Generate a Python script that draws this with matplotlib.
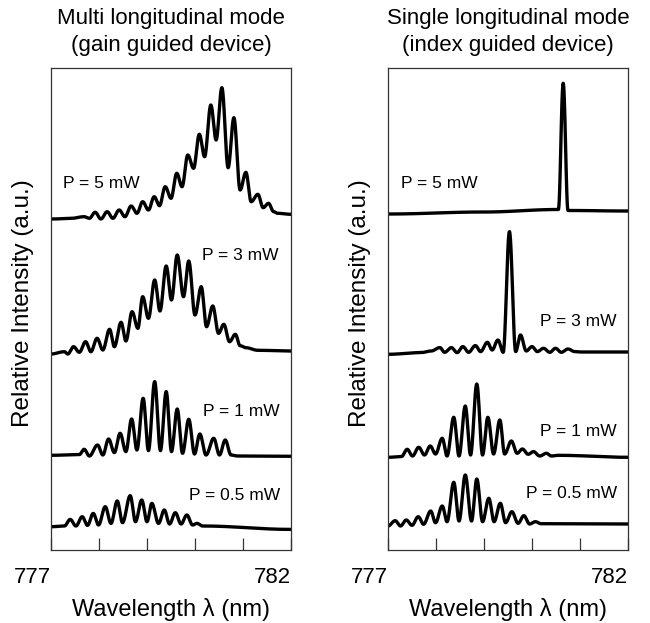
import numpy as np
import matplotlib
matplotlib.use('Agg')
from matplotlib import pyplot as plt

plt.rcParams['font.family'] = ['Liberation Sans', 'DejaVu Sans']

# extrema: wavelength (nm) and height above each baseline
gain_5_wl = [777.00, 777.40, 777.69, 777.80, 777.92, 778.04, 778.17, 778.29, 778.42, 778.54,
             778.67, 778.79, 778.91, 779.03, 779.15, 779.26, 779.38, 779.50, 779.62, 779.73,
             779.85, 779.97, 780.09, 780.20, 780.33, 780.44, 780.56, 780.69, 780.81, 780.94,
             781.06, 781.17, 781.31, 781.42, 781.53, 781.64, 781.72, 782.00]
gain_5_i = [0, 0.5, 2.3, 0.7, 6.7, 0, 7.3, 0.7, 9, 2.3,
            13, 5.7, 17.3, 9, 22.3, 13.3, 32.3, 20.7, 45.7, 32.3,
            64, 50.7, 84.7, 62.3, 114, 79, 131.3, 51.3, 101.3, 29,
            46.7, 17.3, 24.7, 11.3, 15.7, 7.3, 5.7, 4.7]

gain_3_wl = [777.00, 777.28, 777.35, 777.47, 777.59, 777.72, 777.83, 777.96, 778.08, 778.22,
             778.32, 778.46, 778.56, 778.69, 778.81, 778.91, 779.03, 779.16, 779.27, 779.40,
             779.51, 779.63, 779.76, 779.87, 780.00, 780.13, 780.24, 780.37, 780.49, 780.60,
             780.72, 780.84, 780.94, 781.06, 781.31, 782.00]
gain_3_i = [0, 2.3, 0, 7.3, 1.7, 12.3, 2.3, 15.7, 4, 24.7,
            7.3, 31.7, 13, 42.3, 25.7, 57.3, 35.7, 74, 43, 88,
            54, 99, 57.3, 93, 39, 67.3, 27.3, 48, 20.7, 29.7,
            12.3, 19.7, 8.3, 6.3, 3.7, 3]

gain_1_wl = [777.00, 777.59, 777.69, 777.80, 777.97, 778.08, 778.20, 778.32, 778.44, 778.56,
             778.68, 778.79, 778.92, 779.03, 779.16, 779.28, 779.40, 779.51, 779.63, 779.74,
             779.87, 779.99, 780.10, 780.23, 780.39, 780.51, 780.63, 780.75, 780.89, 782.00]
gain_1_i = [0, 0.7, 6, -0.7, 10.3, 0.3, 16.3, 2.7, 22, 3.7,
            36.3, 5.3, 57, 4.7, 73.7, 4.7, 63.7, 3.7, 46.3, 2,
            36, 1.3, 21.3, 0.3, 17, 0.3, 15.3, 0.3, -0.7, -1]

gain_05_wl = [777.00, 777.28, 777.40, 777.52, 777.65, 777.76, 777.88, 777.99, 778.13, 778.25,
              778.38, 778.49, 778.65, 778.76, 778.89, 779.00, 779.10, 779.24, 779.36, 779.47,
              779.59, 779.71, 779.83, 779.95, 780.04, 780.16, 782.00]
gain_05_i = [0, 0.7, 7.3, 0.7, 10, 1.3, 13.3, 1.7, 20, 3.3,
             25.7, 4, 31, 5, 26.7, 5, 23.3, 3.3, 16.7, 2.7,
             14, 2.7, 11.7, 1.7, 3.3, 0.7, -2.7]

index_5_wl = [777.00, 779.00, 780.55, 780.65, 780.75, 782.00]
index_5_i = [0, 2, 4.5, 130.7, 3.5, 3]

index_3_wl = [777.00, 777.69, 777.90, 778.08, 778.18, 778.32, 778.44, 778.56, 778.68, 778.82,
              778.93, 779.07, 779.17, 779.29, 779.40, 779.53, 779.66, 779.76, 779.88, 780.00,
              780.11, 780.24, 780.37, 780.49, 780.61, 780.75, 780.89, 781.03, 782.00]
index_3_i = [0, 1.7, 3.3, 6.7, 2, 6.7, 1.7, 7.7, 2, 8.7,
             2.7, 12, 4.3, 14.3, 2, 122.7, 2.7, 19.3, 3.3, 7.7,
             2.7, 6, 2, 6, 2, 5.3, 2.7, 2.3, 2.3]

index_1_wl = [777.00, 777.28, 777.40, 777.51, 777.64, 777.76, 777.88, 777.99, 778.13, 778.23,
              778.37, 778.48, 778.61, 778.72, 778.85, 778.97, 779.08, 779.20, 779.33, 779.43,
              779.57, 779.69, 779.80, 779.92, 780.03, 780.16, 780.30, 780.40, 780.54, 782.00]
index_1_i = [0, 0.7, 8, 1.3, 10, 2.3, 11.3, 3.3, 19, 1.3,
             40, 1.3, 51.3, 2.3, 73.3, 2.3, 40, 3.3, 37.3, 3.3,
             16.3, 4, 8.3, 3, 5.7, 1.3, 4, 1.3, 2, 0]

index_05_wl = [777.00, 777.15, 777.26, 777.38, 777.50, 777.63, 777.74, 777.89, 777.99, 778.13,
               778.23, 778.37, 778.48, 778.61, 778.74, 778.85, 778.97, 779.10, 779.21, 779.34,
               779.45, 779.58, 779.71, 779.83, 779.95, 780.07, 780.19, 782.00]
index_05_i = [0, 5.3, 0, 6, 0.7, 9.3, 1.7, 15, 3.3, 20,
              4.3, 43.7, 5, 51, 5, 47, 4.3, 27.7, 4.3, 22.7,
              3.3, 14.3, 2.7, 10.3, 2, 4.3, 2.3, 2]

powers = ['P = 5 mW', 'P = 3 mW', 'P = 1 mW', 'P = 0.5 mW']
gain_offsets = [331, 196, 94.7, 23.3]
index_offsets = [336, 195.7, 92.7, 24]

gain_label_pos = [(777.24, 366, 'left'), (781.74, 295, 'right'),
                  (781.77, 139, 'right'), (781.77, 55, 'right')]
index_label_pos = [(777.27, 366, 'left'), (781.77, 228, 'right'),
                   (781.77, 118, 'right'), (781.77, 56, 'right')]

gain = [(gain_5_wl, gain_5_i), (gain_3_wl, gain_3_i), (gain_1_wl, gain_1_i), (gain_05_wl, gain_05_i)]
index = [(index_5_wl, index_5_i), (index_3_wl, index_3_i), (index_1_wl, index_1_i), (index_05_wl, index_05_i)]


# smooth curve through extrema (half-cosine between consecutive points)
def smooth(wl, inten, n=24):
    xs, ys = [], []
    t = np.linspace(0, 1, n, endpoint=False)
    s = (1 - np.cos(np.pi * t)) / 2
    for k in range(len(wl) - 1):
        xs.append(wl[k] + (wl[k + 1] - wl[k]) * t)
        ys.append(inten[k] + (inten[k + 1] - inten[k]) * s)
    xs.append([wl[-1]])
    ys.append([inten[-1]])
    return np.concatenate(xs), np.concatenate(ys)


fig = plt.figure(figsize=(6.5, 6.23), dpi=100)
ax1 = fig.add_axes([51 / 650, 73 / 623, 240 / 650, 482 / 623])
ax2 = fig.add_axes([388 / 650, 73 / 623, 240 / 650, 482 / 623])

titles = ['Multi longitudinal mode\n(gain guided device)',
          'Single longitudinal mode\n(index guided device)']

for ax, traces, offsets, lpos, title in [(ax1, gain, gain_offsets, gain_label_pos, titles[0]),
                                          (ax2, index, index_offsets, index_label_pos, titles[1])]:
    for (wl, inten), off, p, (lx, ly, ha) in zip(traces, offsets, powers, lpos):
        x, y = smooth(wl, inten)
        ax.plot(x, y + off, color='black', lw=2.4, solid_joinstyle='round')
        ax.text(lx, ly, p, ha=ha, va='center', fontsize=12.5)
    ax.set_xlim(777, 782)
    ax.set_ylim(0, 482)
    ax.set_yticks([])
    ax.set_xticks([777, 778, 779, 780, 781, 782])
    ax.set_xticklabels(['777', '', '', '', '', '782'], ha='right')
    ax.tick_params(axis='x', direction='in', length=8.6, width=0.9, color='#333333',
                   pad=12, labelsize=16)
    for sp in ax.spines.values():
        sp.set_color('#333333')
        sp.set_linewidth(0.9)
    ax.set_xlabel(u'Wavelength \u03bb (nm)', fontsize=17, labelpad=7.5)
    ax.set_ylabel('Relative Intensity (a.u.)', fontsize=17.5)
    ax.yaxis.set_label_coords(-0.07, 0.513)
    ax.set_title(title, fontsize=16, pad=12, linespacing=1.4)

plt.savefig('out.png', dpi=100)
